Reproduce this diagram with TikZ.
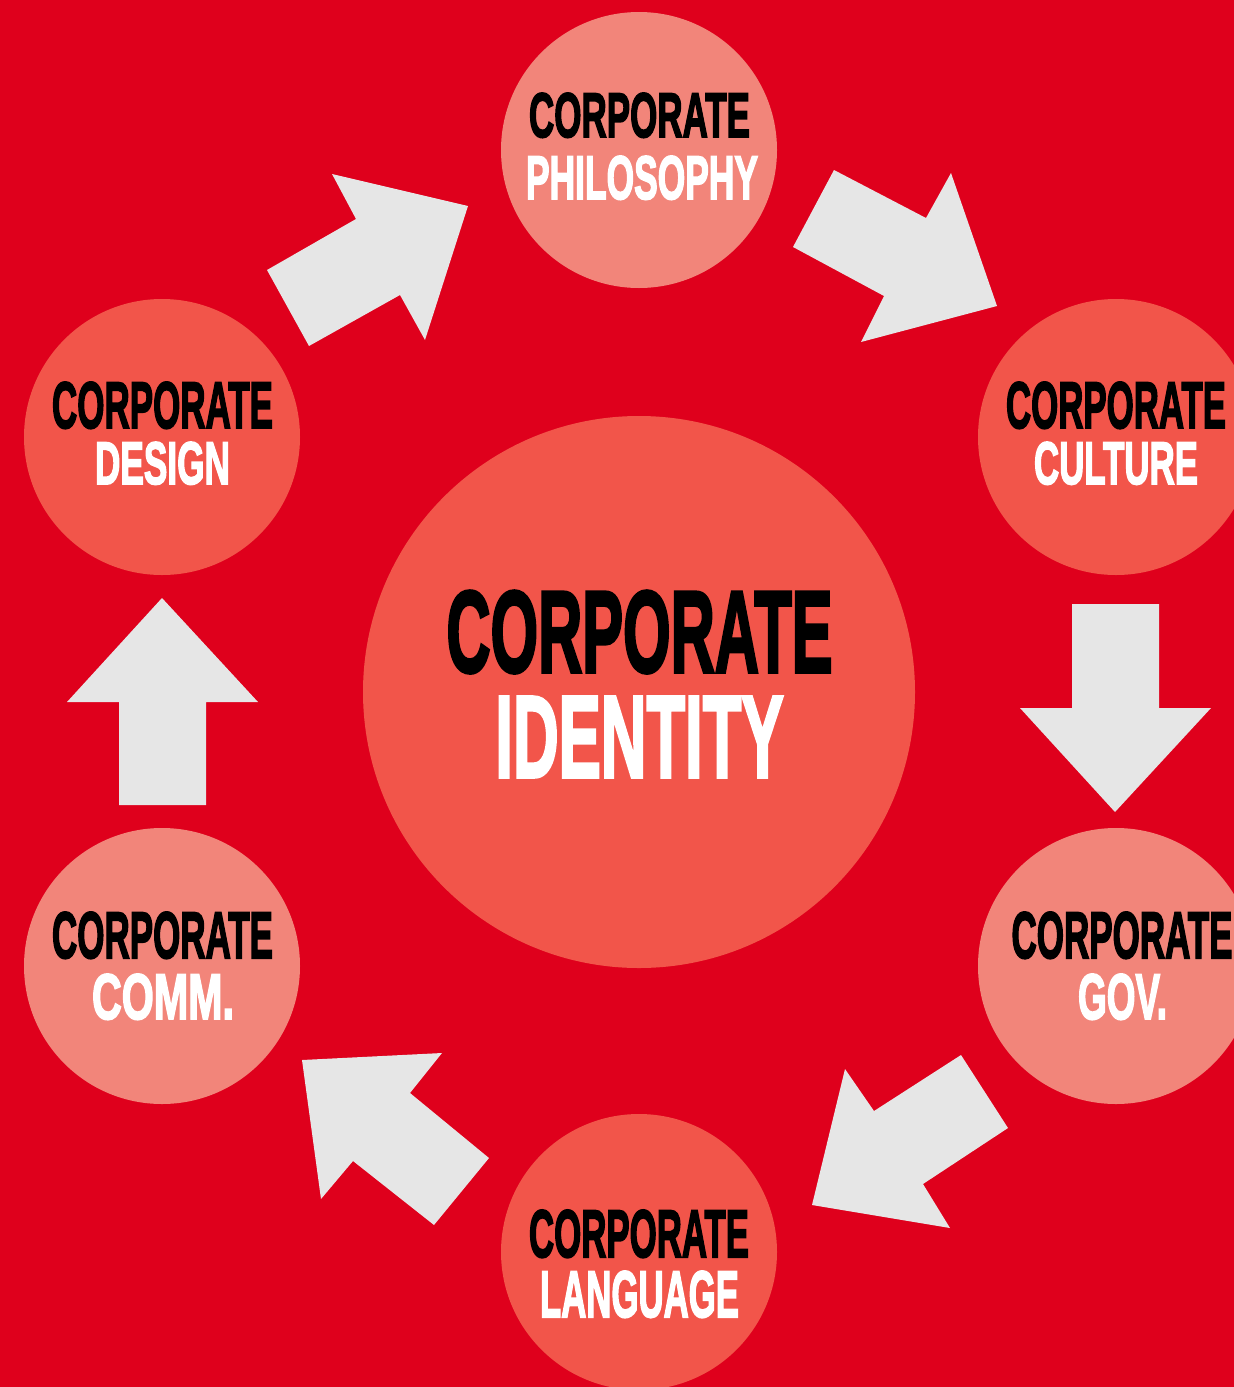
\documentclass[tikz,border=0pt]{standalone}
\usepackage{fontspec}
\setmainfont{Liberation Sans}
\newfontfamily\heavyfont{Liberation Sans}[BoldFeatures={FakeBold=3}]
\definecolor{bgred}{HTML}{DF001C}
\definecolor{cmid}{HTML}{F2554A}
\definecolor{clight}{HTML}{F2857A}
\definecolor{arrowgray}{HTML}{E6E6E6}
\newcommand\fitline[3]{\resizebox{#1pt}{#2pt}{#3}}
\begin{document}
\begin{tikzpicture}[x=1pt,y=-1pt,
  bubble/.style={circle,inner sep=0pt,minimum size=276pt,draw=none},
  midbubble/.style={bubble,fill=cmid},
  lightbubble/.style={bubble,fill=clight},
  txtblack/.style={anchor=base,inner sep=0pt,text=black,font=\heavyfont\bfseries},
  txtwhite/.style={anchor=base,inner sep=0pt,text=white,font=\heavyfont\bfseries},
  blockarrow/.style={fill=arrowgray,draw=none}]
\useasboundingbox (0,0) rectangle (1234,1387);
\clip (0,0) rectangle (1234,1387);
\fill[bgred] (0,0) rectangle (1234,1387);

% circles
\node[midbubble,minimum size=552pt] (ident) at (639,692) {};
\node[lightbubble] (phil) at (639,150) {};
\node[midbubble] (cult) at (1116,437) {};
\node[lightbubble] (gov) at (1116,966) {};
\node[midbubble] (lang) at (639,1252) {};
\node[lightbubble] (comm) at (162,966) {};
\node[midbubble] (design) at (162,437) {};

% block arrows
\fill[blockarrow] (267,270) -- (356,219) -- (332,174) -- (468,206) -- (425,340) -- (400,295) -- (309,346) -- cycle;
\fill[blockarrow] (834,170) -- (926,218) -- (951,173) -- (997,306) -- (861,342) -- (884,296) -- (793,247) -- cycle;
\fill[blockarrow] (1072,604) -- (1159,604) -- (1159,708) -- (1211,708) -- (1115,812) -- (1020,708) -- (1072,708) -- cycle;
\fill[blockarrow] (961,1055) -- (1008,1128) -- (923,1184) -- (950,1228) -- (812,1205) -- (845,1069) -- (874,1111) -- cycle;
\fill[blockarrow] (489,1158) -- (434,1225) -- (353,1161) -- (321,1199) -- (302,1060) -- (442,1053) -- (410,1093) -- cycle;
\fill[blockarrow] (119,805) -- (206,805) -- (206,702) -- (258,702) -- (162,598) -- (67,702) -- (119,702) -- cycle;

% texts
\node[txtblack] (identA) at (639.5,672) {\fitline{386}{81}{CORPORATE}};
\node[txtwhite] (identB) at (639.5,777) {\fitline{288}{80}{IDENTITY}};

\node[txtblack] (philA) at (639.5,137) {\fitline{221}{44}{CORPORATE}};
\node[txtwhite] (philB) at (642,199) {\fitline{232}{43}{PHILOSOPHY}};

\node[txtblack] (cultA) at (1116,428) {\fitline{220}{46}{CORPORATE}};
\node[txtwhite] (cultB) at (1116,484) {\fitline{164}{42}{CULTURE}};

\node[txtblack] (designA) at (162.5,428) {\fitline{221}{46}{CORPORATE}};
\node[txtwhite] (designB) at (162.5,484) {\fitline{135}{42}{DESIGN}};

\node[txtblack] (commA) at (162.5,958) {\fitline{221}{46}{CORPORATE}};
\node[txtwhite] (commB) at (163,1019) {\fitline{142}{45}{COMM.}};

\node[txtblack] (govA) at (1122,958) {\fitline{221}{46}{CORPORATE}};
\node[txtwhite] (govB) at (1122.5,1019) {\fitline{89}{45}{GOV.}};

\node[txtblack] (langA) at (639,1257) {\fitline{220}{47}{CORPORATE}};
\node[txtwhite] (langB) at (639.5,1317) {\fitline{199}{46}{LANGUAGE}};
\end{tikzpicture}
\end{document}
